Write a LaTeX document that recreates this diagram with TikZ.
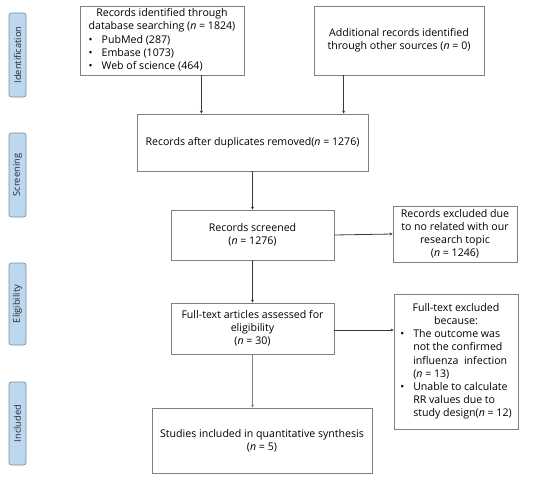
\documentclass[tikz,border=0pt]{standalone}
\usepackage{fontspec}
\setmainfont{Open Sans}
\usetikzlibrary{arrows.meta}
\definecolor{bordergray}{HTML}{7F7F7F}
\definecolor{arrowgray}{HTML}{3A3A3A}
\definecolor{phasefill}{HTML}{BDD7EE}
\definecolor{phaseedge}{HTML}{7890A4}
\definecolor{phasetext}{HTML}{1F2A36}
\newcommand{\nn}{\textit{n}}
\begin{document}
\begin{tikzpicture}[x=1pt,y=-1pt,
  box/.style={draw=bordergray, line width=0.8pt, rectangle, inner sep=0pt, align=center,
     font=\fontsize{10.6pt}{13.2pt}\selectfont},
  phase/.style={draw=phaseedge, fill=phasefill, rounded corners=2.5pt, line width=0.7pt,
     minimum width=17pt, inner sep=0pt, font=\fontsize{9.3pt}{10pt}\selectfont\color{phasetext}},
  arr/.style={draw=arrowgray, line width=0.8pt, -{Stealth[length=3pt,width=3pt]}},
  thinarr/.style={draw=gray, line width=0.6pt, -{Stealth[length=3pt,width=3pt]}}]
\useasboundingbox (0,0) rectangle (550,480);
% phase labels
\node[phase, minimum height=84pt] (pi) at (17.5,55) {\rotatebox{90}{Identification}};
\node[phase, minimum height=84pt] (ps) at (17.5,175) {\rotatebox{90}{Screening}};
\node[phase, minimum height=82pt] (pe) at (17.5,304) {\rotatebox{90}{Eligibility}};
\node[phase, minimum height=83pt] (pn) at (17.5,423.5) {\rotatebox{90}{Included}};
% boxes
\node[box, minimum width=164pt, minimum height=69pt] (b1) at (162,40.5)
  {\begin{tabular}{@{}l@{}}
   \multicolumn{1}{@{}c@{}}{Records identified through}\\
   \multicolumn{1}{@{}c@{}}{database searching (\nn{} = 1824)}\\
   \makebox[13pt][l]{\textbullet}PubMed (287)\\
   \makebox[13pt][l]{\textbullet}Embase (1073)\\
   \makebox[13pt][l]{\textbullet}Web of science (464)
   \end{tabular}};
\node[box, minimum width=170pt, minimum height=69pt] (b2) at (399,40.5)
  {Additional records identified\\through other sources (\nn{} = 0)};
\node[box, minimum width=231pt, minimum height=57pt] (b3) at (252.5,142.5)
  {Records after duplicates removed(\nn{} = 1276)};
\node[box, minimum width=163pt, minimum height=50pt] (b4) at (252.5,235)
  {Records screened\\(\nn{} = 1276)};
\node[box, minimum width=124pt, minimum height=56pt] (b5) at (455,234)
  {Records excluded due\\to no related with our\\research topic\\(\nn{} = 1246)};
\node[box, minimum width=163pt, minimum height=51pt] (b6) at (252.5,328.5)
  {Full-text articles assessed for\\eligibility\\(\nn{} = 30)};
\node[box, minimum width=124pt, minimum height=135pt] (b7) at (456,361.5)
  {\begin{tabular}{@{}l@{}}
   \multicolumn{1}{@{}c@{}}{Full-text excluded}\\
   \multicolumn{1}{@{}c@{}}{because:}\\
   \makebox[13pt][l]{\textbullet}The outcome was\\
   \makebox[13pt][l]{}not the confirmed\\
   \makebox[13pt][l]{}influenza\ \ infection\\
   \makebox[13pt][l]{}(\nn{} = 13)\\
   \makebox[13pt][l]{\textbullet}Unable to calculate\\
   \makebox[13pt][l]{}RR values due to\\
   \makebox[13pt][l]{}study design(\nn{} = 12)
   \end{tabular}};
\node[box, minimum width=220pt, minimum height=65pt] (b8) at (262,440.5)
  {Studies included in quantitative synthesis\\(\nn{} = 5)};
% connectors
\draw[arr] ([xshift=-43pt]b1.south east) -- ([xshift=-43pt]b1.south east |- b3.north);
\draw[arr] ([xshift=30pt]b2.south west) -- ([xshift=30pt]b2.south west |- b3.north);
\draw[arr] (b3.south) -- (b4.north);
\draw[arr] (b4.east) -- (b5.west);
\draw[arr] (b4.south) -- (b6.north);
\draw[arr] ([yshift=-1.5pt]b6.east) -- ([yshift=-1.5pt]b6.east -| b7.west);
\draw[thinarr] (b6.south) -- (b6.south |- b8.north);
\end{tikzpicture}
\end{document}
